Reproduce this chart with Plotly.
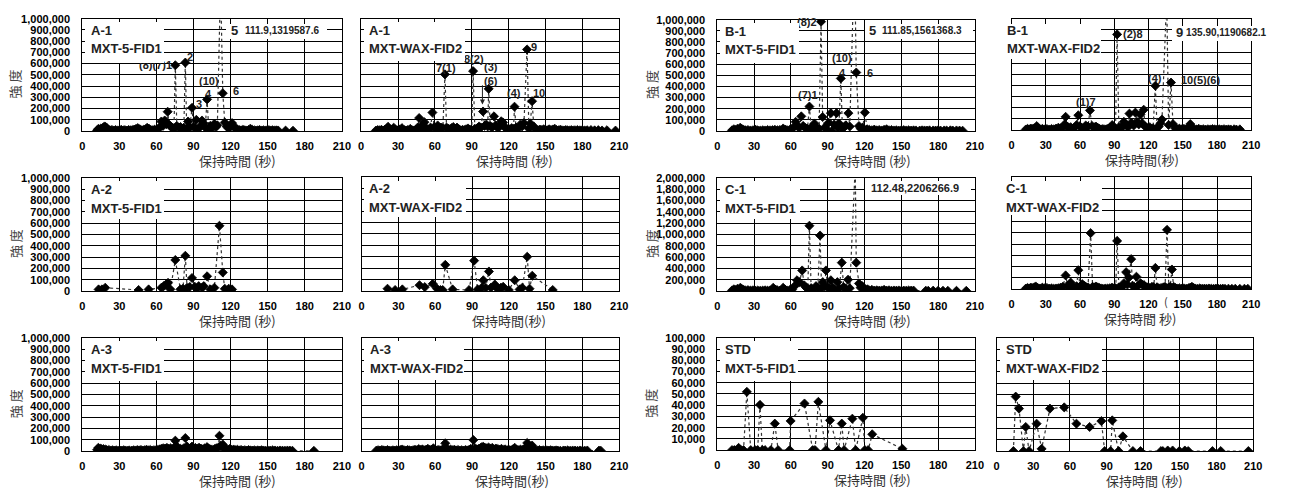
import plotly.graph_objects as go

W, H = 1289, 501
FONT = "Liberation Sans"
CJK = "Noto Sans CJK JP"

# ---------------- data: (retention time [s], intensity [thousand]) ----------------
A1_MXT5 = [(12,5),(13,18),(14,10),(15,22),(16,12),(17,30),(18,40),(19,35),(20,25),(21,12),(22.5,6),(24,9),(25.5,4),(27,8),(28.5,3),(30,6),(31.5,10),(33,5),(34.5,7),(36,3),(37.5,9),(39,5),(40.5,8),(42,12),(43.5,18),(45,25),(46.5,15),(48,6),(49.5,10),(51,14),(52.5,28),(54,20),(55.5,8),(57,5),(58.5,12),(60,9),(61.5,20),(62.5,30),(64,84),(65.3,45),(66.7,93),(68,60),(69.1,171),(70.3,55),(71.5,40),(73,25),(74.2,20),(75.3,585),(76.5,45),(78,30),(79.5,35),(81,20),(82.2,28),(83.4,609),(84.5,22),(85.6,84),(87,30),(88.8,206),(90,40),(91.2,25),(92.3,99),(93.5,15),(95,35),(96.9,93),(98,70),(99.5,30),(101,281),(102.3,20),(103.6,45),(105,25),(106.9,64),(108.2,35),(109.3,50),(111.9,1319.5876),(113.7,336),(115.3,75),(116.8,40),(118.3,25),(119.7,35),(121.2,70),(122.5,45),(124,20),(125.5,12),(127,8),(128.5,5),(130,10),(131.5,6),(133,4),(134.5,8),(136,20),(137.5,10),(139,6),(140.5,3),(142,5),(143.5,8),(145,4),(146.5,6),(148,3),(149.5,5),(151,7),(152.5,4),(154,6),(155.5,3),(157,5),(158.5,4),(164.5,3),(170.5,2)]

A1_WAX = [(12,3),(13.5,8),(15,5),(16.5,10),(18,4),(19.5,12),(21,20),(21.9,37),(23,15),(24.5,8),(26.5,29),(28,10),(29.5,5),(31,12),(33.2,25),(35,8),(36.5,4),(38,9),(40,18),(41.5,6),(43,4),(44.5,10),(46,30),(47.2,115),(48.5,40),(50,20),(51.5,78),(53,25),(54.8,10),(56.5,30),(58,164),(59.5,35),(61,20),(62.3,49),(63.5,15),(65,30),(66.5,25),(68.2,504),(69.5,30),(71,20),(72.5,15),(73.6,25),(75,35),(76.5,20),(78,30),(79.5,15),(81,5),(82.5,10),(84,8),(85.5,15),(87,22),(88.5,12),(90,8),(91.1,533),(92.5,20),(93.5,12),(94.6,25),(96,40),(97.5,30),(99.2,173),(100.5,45),(101.9,58),(103,40),(103.8,375),(105,45),(106.5,30),(108.1,130),(109.5,50),(111.3,25),(112.5,40),(114,86),(115.5,75),(117,30),(118.5,20),(119.4,10),(121,15),(122.5,25),(124,20),(124.8,216),(126,30),(127.5,20),(129.6,58),(131,40),(132.5,70),(135,726),(136.5,20),(137.7,66),(139.1,265),(140.5,40),(142.3,10),(144,5),(145.5,12),(147,8),(148.5,15),(150,10),(151.5,6),(153,14),(154.5,8),(156,12),(157.5,20),(159,8),(160.5,5),(162,10),(163.5,6),(165,4),(166.5,8),(168,5),(169.5,3),(171,7),(172.5,4),(174,6),(176,8),(178,5),(180,7),(182,4),(184,6),(187,8),(190,5),(193,7),(196,4),(200,6),(207,3)]

B1_MXT5 = [(12,5),(13.5,15),(15,8),(16.5,20),(18.7,29),(20,18),(21.5,10),(23,5),(25,8),(27,4),(29,6),(31,12),(33,5),(35,3),(37,6),(39,4),(41,8),(43,5),(45,7),(47,10),(49,6),(51,9),(53.7,22),(55.5,12),(57,6),(59,10),(60.5,15),(62,30),(63.9,82),(65.5,40),(67,30),(68.5,131),(70,45),(72,25),(73.5,20),(75.1,219),(76.5,30),(78,20),(79.2,67),(80.5,30),(81.9,15),(83,20),(84.6,982),(85.9,125),(87.5,30),(88.6,20),(90.7,73),(92.6,160),(93.4,0),(95.3,58),(97.2,160),(98.2,30),(99.3,67),(100.7,472),(102,20),(103.5,35),(104.7,50),(106.9,160),(108,40),(111.85,1561.3683),(113.3,525),(115.5,44),(117,20),(118.5,30),(120.3,166),(122.2,15),(124,10),(126,6),(128,12),(130,5),(132,8),(134,4),(136,10),(138,15),(140,6),(142,8),(144,4),(146,6),(148,3),(150,5),(152,7),(154,4),(156,6),(158,3),(160,5),(162,4),(165,3),(167,5),(169,4),(171,3),(173,5),(176,4),(178,3),(180,5),(182,3),(185,4),(187,3),(190,5),(192,3),(195,4),(197.5,3),(200,2)]

B1_WAX = [(12.5,4),(14,10),(15.5,6),(17,12),(18.5,8),(20,15),(22.1,35),(23.5,15),(25,6),(27,10),(29,5),(31,8),(33,4),(35,9),(37,6),(39,12),(41,20),(43,15),(45,25),(46.5,50),(47.4,118),(49,30),(50.5,15),(51.8,25),(53.5,10),(55,20),(57,45),(58.5,132),(60,30),(61.5,20),(63.4,15),(65,40),(67,30),(68.7,176),(70.5,35),(72.2,25),(74,30),(75.5,20),(77,10),(78.5,5),(80,8),(81.5,4),(83,6),(84.5,10),(86,20),(88.2,44),(89.5,15),(91.1,10),(92.5,859),(94,25),(95.4,10),(96.5,30),(98.4,73),(99.5,50),(100.7,45),(102,25),(103.3,147),(104.5,60),(105.6,59),(107,40),(108.5,156),(110,70),(111.5,50),(112.9,138),(114.5,60),(115.8,182),(117,30),(118.7,20),(120,10),(121.1,25),(122.5,8),(124,15),(126,397),(127.5,20),(128.9,30),(130.5,60),(131.8,94),(135.9,1190.6821),(137.6,44),(139.7,426),(141.4,53),(143.5,15),(145,8),(147,12),(149,6),(151,10),(153,5),(155,20),(156.6,53),(158,15),(160,8),(162,5),(164,10),(166,4),(168,7),(170,3),(172,6),(174,4),(176,8),(178,5),(180,3),(182,6),(184,4),(186,7),(188,3),(190,5),(192,4),(195,6),(197,3),(200,5)]

A2_MXT5 = [(13.2,14),(15.9,14),(18.6,29),(45.6,9),(53.7,14),(64,29),(65.9,43),(67.8,58),(69.4,72),(71.3,15),(75.3,274),(79.4,15),(81.5,20),(83.4,311),(84.8,29),(86.9,35),(88.8,115),(91,38),(92.5,20),(94.2,43),(96.9,29),(98.3,43),(101,130),(103.7,14),(106.9,29),(111,576),(113.7,164),(115.3,20),(118.5,20),(121.2,14)]

A2_WAX = [(21.1,20),(27.3,9),(33.2,14),(47.2,51),(51.5,34),(58,63),(61.5,20),(64.2,9),(66.1,9),(68.2,229),(74.2,14),(87.6,9),(91.7,266),(94.6,14),(97.9,29),(99.2,94),(101.1,29),(103.8,171),(105.4,29),(108.6,57),(111.3,14),(113.5,29),(115.4,37),(120,9),(124.8,94),(128.8,14),(131,29),(135,300),(136.9,20),(139.1,134),(155.8,9)]

C1_MXT5 = [(12,10),(13.5,30),(15,15),(16.5,40),(18.8,58),(20,35),(21.5,20),(23,10),(25,15),(27,8),(29,12),(31,6),(33,10),(35,5),(37,8),(39,12),(41,6),(43,10),(45.6,58),(47.5,25),(49,12),(51,8),(53.7,58),(55.5,20),(57,10),(59,15),(61,25),(63,86),(65,190),(67,156),(69.2,363),(71,98),(72.5,60),(73.8,40),(75.1,1153),(76.5,50),(78,30),(80.5,86),(82,60),(83.8,980),(85,50),(86,156),(87.5,80),(88.6,363),(90,75),(91.2,40),(92.6,190),(94,60),(95.5,30),(97.9,156),(99.5,45),(101.5,501),(103,70),(104.5,40),(106.6,200),(108,50),(112.48,2206.2669),(113.3,501),(115.5,133),(116.8,60),(118.2,86),(119.5,40),(121,15),(122.5,30),(124,10),(126,20),(128,8),(130,12),(132,6),(134,10),(136,20),(138,8),(140,12),(142,5),(144,9),(146,6),(148,10),(150,4),(152,8),(154,5),(156,10),(158,6),(160,8),(170,5),(172,4),(176,6),(180,4),(184,5),(188,3),(195,4),(203,3)]

C1_WAX = [(12.5,8),(14,20),(15.5,12),(17,25),(18.5,15),(20,30),(21.2,46),(23,20),(25,10),(27,25),(29,15),(31,20),(33,8),(35,12),(37,6),(39,10),(41,15),(43,25),(45,40),(47.4,243),(49,60),(50.5,40),(51.8,116),(53.5,30),(55,20),(57,50),(58.5,336),(60,40),(62,87),(63.5,60),(65,40),(67,30),(69.3,997),(71,40),(72.5,30),(74,45),(75.5,30),(77,20),(78.5,10),(80,5),(82,8),(84,10),(86,15),(88,25),(90,20),(91.3,15),(92.5,858),(94,30),(95.5,20),(97,40),(98.4,104),(100.4,301),(101.5,80),(102.7,203),(104.8,533),(106,60),(107.5,40),(109.4,220),(111,60),(113,104),(114.5,80),(116,70),(117.5,40),(119,30),(121,20),(123,40),(124.5,35),(126,377),(127.5,30),(129,15),(131,20),(133,30),(134.5,40),(136.2,1055),(137.8,30),(139,40),(140.5,348),(142,40),(143.5,20),(145,10),(147,15),(149,8),(151,12),(153,6),(155,15),(156.5,25),(158,40),(159.5,20),(161,10),(163,6),(165,12),(167,5),(169,8),(171,4),(173,10),(175,6),(177,4),(179,8),(181,5),(183,3),(185,7),(187,4),(190,6),(193,4),(196,5),(200,3),(204,5),(207,4)]

A3_MXT5 = [(12,12),(13,29),(14,15),(15,22),(16,10),(17,18),(18,8),(19,14),(20,6),(21.5,10),(23,5),(24.5,8),(26,4),(27.5,7),(29,3),(30.5,6),(32,4),(33.5,8),(35,5),(36.5,3),(38,6),(40,4),(41.5,7),(43,5),(44.5,9),(46,6),(47.5,10),(49,5),(50.5,8),(52,12),(53.5,7),(55,10),(56.5,5),(58,8),(59.5,6),(61,10),(62.5,15),(64,20),(65.5,25),(67,22),(68.5,28),(70,20),(71.5,25),(73,15),(74.2,30),(75.3,92),(76.7,40),(78,12),(79.5,20),(81,15),(82.2,25),(83.4,115),(84.8,40),(86,18),(87.5,25),(88.8,40),(90,18),(91.5,28),(93,20),(94.5,30),(96,22),(97.5,15),(99,25),(101,35),(102.5,20),(104,15),(105.5,10),(107,18),(108.5,25),(110,30),(111,135),(112,45),(113.7,58),(115.3,12),(116.5,18),(118,12),(119.5,20),(121,10),(122.5,14),(124,8),(125.5,12),(127,6),(128.5,10),(130,5),(131.5,8),(133,4),(134.5,9),(136,6),(137.5,4),(139,7),(140.5,3),(142,6),(143.5,4),(145,8),(146.5,5),(148,3),(150,6),(152,4),(154,7),(156,5),(158,3),(160,5),(162,4),(164,3),(166,5),(168,4),(170,3),(187.4,2)]

A3_WAX = [(12,4),(13.5,8),(15,5),(16.5,10),(18,6),(19.5,4),(21,9),(22.5,5),(24,3),(25.5,7),(27,4),(28.5,8),(30,5),(31.5,10),(33,14),(34.5,8),(36,5),(37.5,10),(39,6),(40.5,4),(42,8),(43.5,12),(45,6),(46.5,18),(48,10),(49.5,15),(51,8),(52.5,12),(54,20),(55.5,10),(57,14),(58.5,25),(60,12),(61.5,8),(63,10),(64.5,6),(66,15),(68.2,69),(69.5,20),(71,10),(72.5,14),(74,8),(75.5,12),(77,6),(78.5,10),(80,5),(81.5,8),(83,4),(84.5,9),(86,6),(87.5,10),(89,20),(91.1,98),(92.5,25),(94,15),(95.5,20),(97,28),(98.2,35),(99.2,38),(100.5,30),(102,25),(103.5,32),(105,20),(106.5,28),(108,15),(109.5,22),(111,18),(112.5,12),(114,20),(115.5,10),(117,15),(118.5,8),(120,12),(121.5,6),(123,14),(124.8,29),(126.5,12),(128,8),(129.5,14),(131,10),(132.5,18),(134,30),(135,72),(136.5,40),(137.7,25),(139,49),(140.3,15),(142,8),(143.5,5),(145,9),(146.5,4),(148,7),(149.5,3),(151,6),(152.5,4),(154,8),(155.5,5),(157,3),(158.5,6),(160,4),(162,3),(164.5,5),(166,4),(168,6),(170,3),(172,5),(174,4),(176,3),(178,5),(180,4),(182,3),(184,5),(193.5,4),(195,3)]

STD_MXT5 = [(12,0),(13.9,0),(17.4,2),(19.2,0),(21.4,0),(24.1,51.9),(27.3,0),(30.8,0),(32.9,0),(34.8,40.3),(36.7,0),(38.9,0),(43.7,0),(46.9,23.6),(49.6,0),(59,0),(59.8,26),(71.1,41.5),(77.8,0),(79.7,0),(82.4,43),(88.6,0),(91.9,26.5),(98.8,0),(101.5,23.6),(103.4,0),(110.1,28),(112.8,0),(118.7,28.8),(120.3,0),(123,0),(126.3,14.1),(150.9,1.2)]

STD_WAX = [(13.7,0),(15.6,48.1),(18.3,37.5),(21.9,0),(23.8,21.3),(26.5,0),(32.7,24.2),(36.8,2),(43.6,37.5),(55.3,38.6),(65.3,24.2),(76.1,21.3),(85.7,26.5),(88.4,0),(93.3,0),(94.6,27.1),(99.8,0),(103.3,13),(111.5,0),(117.7,0),(134.5,0),(136,0),(140,0.5),(144,0.5),(149.5,0),(154,0.5),(156.8,0),(176.6,0),(183.4,0),(206,0)]

TIME_TICKS = [0, 30, 60, 90, 120, 150, 180, 210]
SAMPLES = ["A-1", "A-1", "B-1", "B-1", "A-2", "A-2", "C-1", "C-1", "A-3", "A-3", "STD", "STD"]
COLUMNS = ["MXT-5-FID1", "MXT-WAX-FID2"] * 6
Y_TITLE = "強 度"
X_TITLES = ["保持時間 (秒)", "保持時間 (秒)", "保持時間 (秒)", "保持時間(秒)",
            "保持時間 (秒)", "保持時間(秒)", "保持時間 (秒)", "保持時間 秒)",
            "保持時間 (秒)", "保持時間(秒)", "保持時間 (秒)", "保持時間 (秒)"]
SERIES = [A1_MXT5, A1_WAX, B1_MXT5, B1_WAX, A2_MXT5, A2_WAX,
          C1_MXT5, C1_WAX, A3_MXT5, A3_WAX, STD_MXT5, STD_WAX]
Y_MAX = [1e6, 1e6, 1e6, 1e6, 1e6, 1e6, 2e6, 2e6, 1e6, 1e6, 1e5, 1e5]

# ---------------- layout geometry (pixels) ----------------
BOX = [(80, 342, 13, 128), (361.5, 622, 13, 128), (721, 981, 14, 128), (1018, 1260, 13, 127),
       (80, 342, 176, 292), (362, 622, 175, 292), (721, 981, 176, 292), (1018, 1260, 175, 290),
       (80, 342, 340, 456), (362, 622, 340, 456), (721, 981, 340, 455), (1003, 1262, 340, 456)]
SHOW_Y = [True, False, True, False] * 3
LABEL_BOX = [(83, 162, 16, 57), (364, 465, 16, 55), (724, 803, 17, 57), (1010, 1107, 18, 53),
             (83, 162, 179, 217), (364, 466, 179, 215), (724, 804, 179, 217), (1008, 1108, 179, 213),
             (83, 162, 343, 383), (364, 464, 343, 382), (724, 802, 343, 383), (1006, 1108, 343, 382)]
LABEL_TEXT_X = [87, 367, 727, 1011, 87, 367, 727, 1010, 87, 368, 727, 1010]
XT_CENTER = [237, 516, 878, 1150, 237, 511, 878, 1148, 237, 514, 878, 1152]

def px_x(x):
    return x / W

def px_y(y):
    return 1 - y / H

fig = go.Figure()
layout = {}
ann = []

for i in range(12):
    n = "" if i == 0 else str(i + 1)
    x0, x1, y0, y1 = BOX[i]
    ts = [p[0] for p in SERIES[i]]
    vs = [p[1] * 1000 for p in SERIES[i]]
    fig.add_trace(go.Scatter(
        x=ts, y=vs, mode="lines+markers", xaxis="x" + n, yaxis="y" + n,
        line=dict(color="#333333", width=1.2, dash="dot"),
        marker=dict(symbol="diamond", size=7, color="black", line=dict(color="black", width=0.8)),
        showlegend=False, hoverinfo="skip"))
    layout["xaxis" + n] = dict(
        domain=[px_x(x0), px_x(x1)], anchor="y" + n, range=[0, 210],
        tickvals=TIME_TICKS, showgrid=True, gridcolor="black", gridwidth=1,
        showline=True, mirror=True, linecolor="black", linewidth=1, zeroline=False,
        ticks="outside", ticklen=5, tickcolor="rgba(0,0,0,0)",
        tickfont=dict(family=FONT, size=11, color="black", weight="bold"), fixedrange=True)
    layout["yaxis" + n] = dict(
        domain=[px_y(y1), px_y(y0)], anchor="x" + n, range=[0, Y_MAX[i]],
        dtick=Y_MAX[i] / 10, tickformat=",d", showticklabels=SHOW_Y[i],
        showgrid=True, gridcolor="black", gridwidth=1,
        showline=True, mirror=True, linecolor="black", linewidth=1, zeroline=False,
        ticks="outside", ticklen=9, tickcolor="rgba(0,0,0,0)",
        tickfont=dict(family=FONT, size=11, color="black", weight="bold"), fixedrange=True)
    # x axis title
    ann.append(dict(xref="paper", yref="paper", x=px_x(XT_CENTER[i]), y=px_y(y1 + 30),
                    text=X_TITLES[i], showarrow=False, xanchor="center", yanchor="middle",
                    font=dict(family=CJK, size=13, color="#333333")))
    if SHOW_Y[i]:
        ann.append(dict(xref="paper", yref="paper", x=px_x(x0 - 68 if x0 < 300 else x0 - 67),
                        y=px_y((y0 + y1) / 2 + 9), text=Y_TITLE, textangle=-90, showarrow=False,
                        xanchor="center", yanchor="middle",
                        font=dict(family=CJK, size=13, color="#444444")))

# stray parenthesis of the C-1 WAX axis title
ann.append(dict(xref="paper", yref="paper", x=px_x(1177), y=px_y(302), text="(", showarrow=False,
                borderpad=0, font=dict(family=CJK, size=11, color="#333333")))

LAB_FONT = dict(family=FONT, size=11, color="#222222")
BOX_FONT = dict(family=FONT, size=13, color="#222222")

def peak_label(i, t, vk, s, xanchor="center"):
    n = "" if i == 0 else str(i + 1)
    ann.append(dict(xref="x" + n, yref="y" + n, x=t, y=vk * 1000, text="<b>" + s + "</b>",
                    showarrow=False, xanchor=xanchor, yanchor="middle", font=LAB_FONT))

# A-1 MXT-5
peak_label(0, 74, 585, "(8)(7)1", "right")
peak_label(0, 87.5, 655, "2")
peak_label(0, 94.2, 244, "3")
peak_label(0, 102.3, 446, "(10)")
peak_label(0, 102.3, 325, "4")
peak_label(0, 124.7, 354, "6")
# A-1 WAX
peak_label(1, 69, 562, "7(1)")
peak_label(1, 91.9, 640, "8(2)")
peak_label(1, 105.5, 568, "(3)")
peak_label(1, 105.3, 447, "(6)")
peak_label(1, 124.3, 337, "(4)")
peak_label(1, 141, 749, "9")
peak_label(1, 145, 337, "10")
ann.append(dict(xref="x2", yref="y2", x=98.7, y=235000, ax=98.7, ay=420000, axref="x2", ayref="y2",
                text="", showarrow=True, arrowhead=2, arrowsize=1, arrowwidth=1, arrowcolor="#222222"))
# B-1 MXT-5
peak_label(2, 83.2, 982, "(8)2", "right")
peak_label(2, 102, 656, "(10)")
peak_label(2, 102, 525, "4")
peak_label(2, 124.1, 525, "6")
peak_label(2, 73.8, 321, "(7)1")
peak_label(2, 99.9, -50, "3")
# B-1 WAX
peak_label(3, 64.9, 250, "(1)7")
peak_label(3, 96, 859, "(2)8", "left")
peak_label(3, 102.7, -53, "(3)")
peak_label(3, 125.4, 465, "(4)")
peak_label(3, 165.3, 447, "10(5)(6)")

# sample / column label boxes
for i in range(12):
    bx0, bx1, by0, by1 = LABEL_BOX[i]
    ann.append(dict(xref="paper", yref="paper", x=px_x(bx0), y=px_y(by0), xanchor="left", yanchor="top",
                    width=bx1 - bx0, height=by1 - by0, text="&nbsp;", showarrow=False,
                    bgcolor="white", borderpad=0, borderwidth=0, font=dict(size=4)))
    ann.append(dict(xref="paper", yref="paper", x=px_x(LABEL_TEXT_X[i]), y=px_y(BOX[i][2] + 12),
                    xanchor="left", yanchor="middle", text="<b>" + SAMPLES[i] + "</b>",
                    showarrow=False, font=BOX_FONT))
    ann.append(dict(xref="paper", yref="paper", x=px_x(LABEL_TEXT_X[i]), y=px_y(BOX[i][2] + 31),
                    xanchor="left", yanchor="middle", text="<b>" + COLUMNS[i] + "</b>",
                    showarrow=False, font=BOX_FONT))

# off-scale peak value boxes
def value_box(bx0, bx1, by0, by1, num, num_x, val, val_x, size=10):
    ann.append(dict(xref="paper", yref="paper", x=px_x(bx0), y=px_y(by0), xanchor="left", yanchor="top",
                    width=bx1 - bx0, height=by1 - by0, text="&nbsp;", showarrow=False,
                    bgcolor="white", borderpad=0, borderwidth=0, font=dict(size=4)))
    yc = (by0 + by1) / 2
    if num:
        ann.append(dict(xref="paper", yref="paper", x=px_x(num_x), y=px_y(yc), xanchor="left",
                        yanchor="middle", text="<b>" + num + "</b>", showarrow=False, font=BOX_FONT))
    ann.append(dict(xref="paper", yref="paper", x=px_x(val_x), y=px_y(yc), xanchor="left",
                    yanchor="middle", text="<b>" + val + "</b>", showarrow=False,
                    font=dict(family=FONT, size=size, color="#222222")))

value_box(225, 326, 18, 33, "5", 228, "111.9,1319587.6", 242)
value_box(870, 978, 18, 33, "5", 872, "111.85,1561368.3", 885)
value_box(1180, 1278, 20, 35, "9", 1182, "135.90,1190682.1", 1192)
value_box(870, 976, 179, 193, "", 0, "112.48,2206266.9", 874, size=11)

layout.update(dict(width=W, height=H, margin=dict(l=0, r=0, t=0, b=0),
                   paper_bgcolor="white", plot_bgcolor="white", annotations=ann))
fig.update_layout(**layout)
fig.write_html("out.html", config={"displayModeBar": False},
               post_script="document.body.style.margin='0px';document.body.style.overflow='hidden';")
